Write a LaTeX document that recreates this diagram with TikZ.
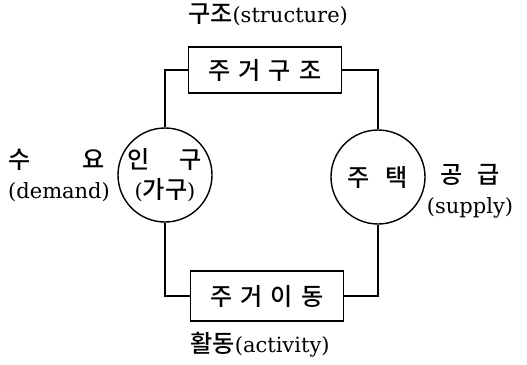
\documentclass[tikz,border=0pt]{standalone}
\usepackage{fontspec}
\setmainfont{DejaVu Serif}
\newfontfamily\krfont[Scale=1.15]{Noto Sans CJK KR Medium}
\usetikzlibrary{positioning}

\begin{document}
\begin{tikzpicture}[
  x=1pt, y=-1pt,
  every node/.style={font=\fontsize{21}{30}\selectfont, inner sep=0pt},
  namebox/.style={draw, line width=1.4pt, minimum width=153pt, minimum height=46pt},
  ring/.style={draw, line width=1.4pt, circle, minimum size=94pt},
  link/.style={line width=1.4pt},
]
\useasboundingbox (0,0) rectangle (527,364);

\node (tlab) at (268,15) {{\krfont 구조}(structure)};
\node[namebox] (struct) at (265,70) {\krfont 주\hspace{8pt}거\hspace{8pt}구\hspace{8pt}조};
\node[namebox, minimum height=50pt] (move) at (267,296) {\krfont 주\hspace{8pt}거\hspace{8pt}이\hspace{8pt}동};
\node (blab) at (260,345) {{\krfont 활동}(activity)};

% population side
\node[ring] (pop) at (165,175) {};
\node[align=center] (popt) at (pop) {{\krfont 인\hspace{30pt}구}\\({\krfont 가구})};
\node[align=left, anchor=west] (dem) at (8,175) {{\krfont 수\hspace{52pt}요}\\(demand)};

% housing side
\node[ring] (house) at (378,177) {\krfont 주\hspace{16pt}택};
\node[align=center] (sup) at (470,191) {{\krfont 공\hspace{15pt}급}\hspace{8pt}\\(supply)};

\draw[link] (struct.west) -| (pop.north);
\draw[link] (struct.east) -| (house.north);
\draw[link] (move.west) -| (pop.south);
\draw[link] (move.east) -| (house.south);
\end{tikzpicture}
\end{document}
